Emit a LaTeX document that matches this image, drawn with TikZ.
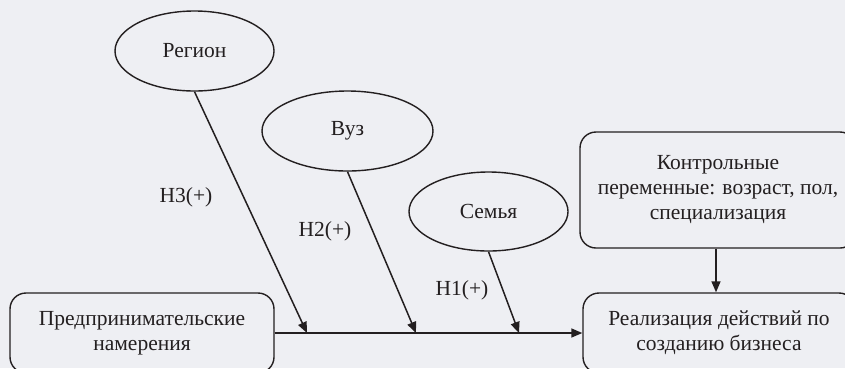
\documentclass[tikz,border=0pt]{standalone}
\usepackage{fontspec}
\setmainfont{Liberation Serif}
\usetikzlibrary{shapes.geometric,arrows.meta}
\definecolor{bg}{HTML}{EEEFF3}
\definecolor{ink}{HTML}{231F20}
\begin{document}
\begin{tikzpicture}[x=1pt,y=-1pt,
  every node/.style={font=\fontsize{21.5}{25}\selectfont, text=ink},
  rbox/.style={draw=ink, line width=1.4pt, rounded corners=16pt, align=center, inner sep=0pt},
  ell/.style={draw=ink, line width=1.4pt, ellipse, inner sep=0pt},
  arr/.style={draw=ink, line width=1.5pt, -{Triangle[length=11pt,width=9pt]}},
  lbl/.style={inner sep=0pt}]
\fill[bg] (0,0) rectangle (845,368);
\useasboundingbox (0,0) rectangle (845,368);
\clip (0,0) rectangle (845,368);
% boxes
\node[rbox, minimum width=264pt, minimum height=80pt] (pn) at (142,333)
  {Предпринимательские\\намерения};
\node[rbox, minimum width=272pt, minimum height=80pt] (rd) at (719,333)
  {Реализация действий по\\созданию бизнеса};
\node[rbox, minimum width=276pt, minimum height=116pt] (kp) at (718,190)
  {Контрольные\\переменные: возраст, пол,\\специализация};
% ellipses
\node[ell, minimum width=159pt, minimum height=80pt] (reg) at (194.5,51) {Регион};
\node[ell, minimum width=171pt, minimum height=80pt] (vuz) at (347.5,131) {Вуз};
\node[ell, minimum width=159pt, minimum height=79pt] (sem) at (488.5,211.5) {Семья};
% targets on main line
\coordinate (c3) at (307,333);
\coordinate (c2) at (416,333);
\coordinate (c1) at (519,333);
% connectors
\draw[arr] (pn.east) -- (rd.west);
\draw[arr] (kp.south -| 716,0) -- (rd.north -| 716,0);
\draw[arr] (reg.south) -- (c3);
\draw[arr] (vuz.south) -- (c2);
\draw[arr] (sem.south) -- (c1);
% labels
\node[lbl] (h3) at (186,197) {H3(+)};
\node[lbl] (h2) at (325,231) {H2(+)};
\node[lbl] (h1) at (462,290) {H1(+)};
\end{tikzpicture}
\end{document}
